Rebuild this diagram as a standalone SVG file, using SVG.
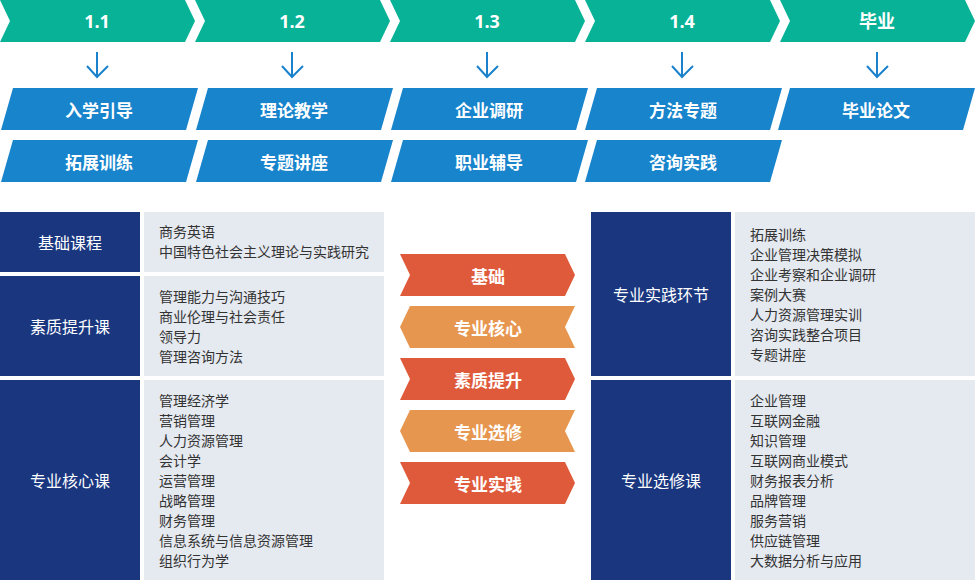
<svg xmlns="http://www.w3.org/2000/svg" width="975" height="580" viewBox="0 0 975 580">
<defs>
<style>
.stage{fill:#07b297}
.act{fill:#1784cc}
.navy{fill:#19367f}
.grey{fill:#e5e9f0}
.red{fill:#df5a3b}
.org{fill:#e7964f}
.hd{font-family:"Open Sans","Noto Sans CJK SC",sans-serif;font-weight:bold;font-size:18px;fill:#fff;text-anchor:middle;dominant-baseline:central}
.lb{font-family:"Noto Sans CJK SC",sans-serif;font-weight:bold;font-size:17px;fill:#fff;text-anchor:middle;dominant-baseline:central}
.nv{font-family:"Noto Sans CJK SC",sans-serif;font-size:16px;fill:#fff;text-anchor:middle;dominant-baseline:central}
.it{font-family:"Noto Sans CJK SC",sans-serif;font-size:14px;fill:#333;dominant-baseline:central}
.dn{fill:none;stroke:#1a82cc;stroke-width:2}
</style>
</defs>
<g id="stage-1-1"><polygon class="stage" points="0,0 185,0 195,21 185,42 0,42 10,21"/><text class="hd" x="97" y="21">1.1</text></g>
<g id="stage-1-2"><polygon class="stage" points="195,0 380,0 390,21 380,42 195,42 205,21"/><text class="hd" x="292" y="21">1.2</text></g>
<g id="stage-1-3"><polygon class="stage" points="390,0 575,0 585,21 575,42 390,42 400,21"/><text class="hd" x="487" y="21">1.3</text></g>
<g id="stage-1-4"><polygon class="stage" points="585,0 770,0 780,21 770,42 585,42 595,21"/><text class="hd" x="682" y="21">1.4</text></g>
<g id="stage-grad"><polygon class="stage" points="780,0 965,0 975,21 965,42 780,42 790,21"/><text class="hd" x="877" y="21">毕业</text></g>

<g id="connectors">
<path class="dn" d="M97,52V77M87,66L97,77L108,66"/>
<path class="dn" d="M292,52V77M282,66L292,77L303,66"/>
<path class="dn" d="M487,52V77M477,66L487,77L498,66"/>
<path class="dn" d="M682,52V77M672,66L682,77L693,66"/>
<path class="dn" d="M877,52V77M867,66L877,77L888,66"/>
</g>

<g id="act-rxyd"><polygon class="act" points="13,88 198,88 186,130 1,130"/><text class="lb" x="99" y="109">入学引导</text></g>
<g id="act-tzxl"><polygon class="act" points="13,140 198,140 186,182 1,182"/><text class="lb" x="99" y="161">拓展训练</text></g>
<g id="act-lljx"><polygon class="act" points="208,88 393,88 381,130 196,130"/><text class="lb" x="294" y="109">理论教学</text></g>
<g id="act-ztjz"><polygon class="act" points="208,140 393,140 381,182 196,182"/><text class="lb" x="294" y="161">专题讲座</text></g>
<g id="act-qydy"><polygon class="act" points="403,88 588,88 576,130 391,130"/><text class="lb" x="489" y="109">企业调研</text></g>
<g id="act-zyfd"><polygon class="act" points="403,140 588,140 576,182 391,182"/><text class="lb" x="489" y="161">职业辅导</text></g>
<g id="act-ffzt"><polygon class="act" points="597,88 782,88 770,130 585,130"/><text class="lb" x="683" y="109">方法专题</text></g>
<g id="act-zxsj"><polygon class="act" points="597,140 782,140 770,182 585,182"/><text class="lb" x="683" y="161">咨询实践</text></g>
<g id="act-bylw"><polygon class="act" points="790,88 975,88 963,130 778,130"/><text class="lb" x="876" y="109">毕业论文</text></g>

<g id="basic-course">
<rect class="navy" x="0" y="212" width="140" height="60"/><text class="nv" x="70" y="242">基础课程</text>
<rect class="grey" x="144" y="212" width="240" height="60"/>
<text class="it" x="159" y="231">商务英语</text>
<text class="it" x="159" y="251">中国特色社会主义理论与实践研究</text>
</g>
<g id="quality-course">
<rect class="navy" x="0" y="276" width="140" height="100"/><text class="nv" x="70" y="326">素质提升课</text>
<rect class="grey" x="144" y="276" width="240" height="100"/>
<text class="it" x="159" y="296">管理能力与沟通技巧</text>
<text class="it" x="159" y="316">商业伦理与社会责任</text>
<text class="it" x="159" y="336">领导力</text>
<text class="it" x="159" y="356">管理咨询方法</text>
</g>
<g id="core-course">
<rect class="navy" x="0" y="380" width="140" height="200"/><text class="nv" x="70" y="480">专业核心课</text>
<rect class="grey" x="144" y="380" width="240" height="200"/>
<text class="it" x="159" y="400">管理经济学</text>
<text class="it" x="159" y="420">营销管理</text>
<text class="it" x="159" y="440">人力资源管理</text>
<text class="it" x="159" y="460">会计学</text>
<text class="it" x="159" y="480">运营管理</text>
<text class="it" x="159" y="500">战略管理</text>
<text class="it" x="159" y="520">财务管理</text>
<text class="it" x="159" y="540">信息系统与信息资源管理</text>
<text class="it" x="159" y="560">组织行为学</text>
</g>

<g id="mid-jichu"><polygon class="red" points="400,254 565,254 575,275 565,296 400,296 410,275"/><text class="lb" x="488" y="275">基础</text></g>
<g id="mid-hexin"><polygon class="org" points="410,306 575,306 565,327 575,348 410,348 400,327"/><text class="lb" x="488" y="327">专业核心</text></g>
<g id="mid-suzhi"><polygon class="red" points="400,358 565,358 575,379 565,400 400,400 410,379"/><text class="lb" x="488" y="379">素质提升</text></g>
<g id="mid-xuanxiu"><polygon class="org" points="410,410 575,410 565,431 575,452 410,452 400,431"/><text class="lb" x="488" y="431">专业选修</text></g>
<g id="mid-shijian"><polygon class="red" points="400,462 565,462 575,483 565,504 400,504 410,483"/><text class="lb" x="488" y="483">专业实践</text></g>

<g id="practice">
<rect class="navy" x="591" y="212" width="140" height="164"/><text class="nv" x="661" y="294">专业实践环节</text>
<rect class="grey" x="735" y="212" width="240" height="164"/>
<text class="it" x="750" y="234">拓展训练</text>
<text class="it" x="750" y="254">企业管理决策模拟</text>
<text class="it" x="750" y="274">企业考察和企业调研</text>
<text class="it" x="750" y="294">案例大赛</text>
<text class="it" x="750" y="314">人力资源管理实训</text>
<text class="it" x="750" y="334">咨询实践整合项目</text>
<text class="it" x="750" y="354">专题讲座</text>
</g>
<g id="elective">
<rect class="navy" x="591" y="380" width="140" height="200"/><text class="nv" x="661" y="480">专业选修课</text>
<rect class="grey" x="735" y="380" width="240" height="200"/>
<text class="it" x="750" y="400">企业管理</text>
<text class="it" x="750" y="420">互联网金融</text>
<text class="it" x="750" y="440">知识管理</text>
<text class="it" x="750" y="460">互联网商业模式</text>
<text class="it" x="750" y="480">财务报表分析</text>
<text class="it" x="750" y="500">品牌管理</text>
<text class="it" x="750" y="520">服务营销</text>
<text class="it" x="750" y="540">供应链管理</text>
<text class="it" x="750" y="560">大数据分析与应用</text>
</g>
</svg>
